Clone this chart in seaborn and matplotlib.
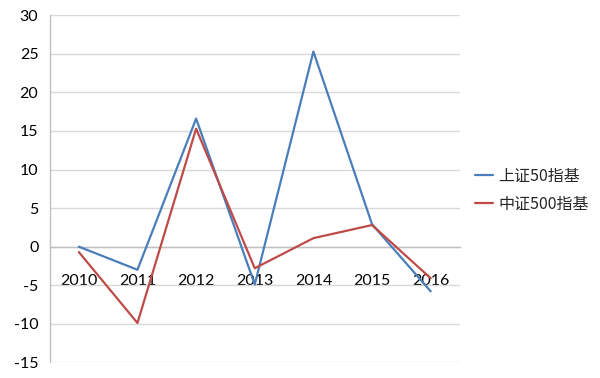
import matplotlib
matplotlib.use("Agg")
import matplotlib.pyplot as plt
import seaborn as sns
import pandas as pd
import numpy as np

years = ["2010", "2011", "2012", "2013", "2014", "2015", "2016"]
sz50 = [0.0, -3.0, 16.6, -4.9, 25.3, 2.9, -5.8]
zz500 = [-0.7, -9.9, 15.3, -2.8, 1.1, 2.8, -4.1]
series_names = ["上证50指基", "中证500指基"]
colors = ["#4A7EBB", "#BE4B48"]

sns.set_theme(style="white")
plt.rcParams["font.family"] = ["Lato", "Noto Sans CJK SC", "DejaVu Sans"]

pos = list(range(len(years)))
df = pd.DataFrame({
    "pos": pos * 2,
    "value": sz50 + zz500,
    "series": [series_names[0]] * len(years) + [series_names[1]] * len(years),
})

fig = plt.figure(figsize=(6, 3.78), dpi=100)
ax = fig.add_axes([0.0825, 0.0415, 0.6842, 0.918])

sns.lineplot(data=df, x="pos", y="value", hue="series", palette=colors,
             linewidth=1.6, ax=ax, legend=False, zorder=3)

ax.set_xlim(-0.5, len(years) - 0.5)
ax.set_ylim(-15, 30)
ax.set_yticks(np.arange(-15, 31, 5))
ax.yaxis.grid(True, color="#D9D9D9", linewidth=1.0)
ax.set_axisbelow(True)
ax.set_xlabel("")
ax.set_ylabel("")

for s in ["top", "right"]:
    ax.spines[s].set_visible(False)
ax.spines["left"].set_color("#BFBFBF")
ax.spines["left"].set_linewidth(1.0)
ax.spines["bottom"].set_position(("data", 0))
ax.spines["bottom"].set_color("#BFBFBF")
ax.spines["bottom"].set_linewidth(1.0)

ax.set_xticks(pos)
ax.set_xticklabels(years, fontsize=11.5, color="black")
ax.set_xticks(np.arange(-0.5, len(years), 1.0), minor=True)
ax.tick_params(axis="x", which="major", length=0, pad=20)
ax.tick_params(axis="x", which="minor", length=5, width=1, color="#BFBFBF", direction="out")
ax.tick_params(axis="y", which="major", length=0, pad=8, labelsize=11.5, labelcolor="black")
ax.set_yticklabels([str(v) for v in range(-15, 31, 5)])

handles = [plt.Line2D([], [], color=c, linewidth=1.6) for c in colors]
fig.legend(handles, series_names, loc="center left",
           bbox_to_anchor=(0.7917, 0.497), frameon=False,
           borderpad=0, borderaxespad=0, handlelength=1.15, handletextpad=0.3,
           labelspacing=0.7, prop={"family": ["Noto Sans CJK SC", "DejaVu Sans"], "size": 11.5})

fig.savefig("out.png", dpi=100, facecolor="white")
